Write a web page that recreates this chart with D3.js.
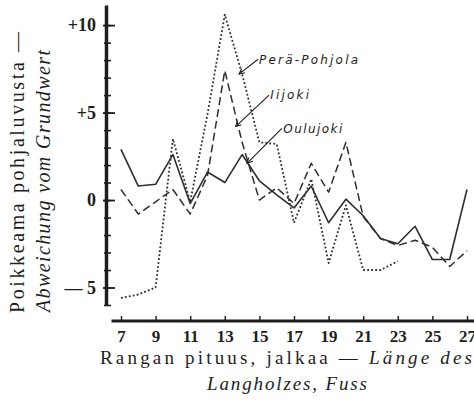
<!DOCTYPE html>
<html>
<head>
<meta charset="utf-8">
<script src="https://cdn.jsdelivr.net/npm/d3@7/dist/d3.min.js"></script>
<style>
  html, body { margin: 0; padding: 0; background: #ffffff; }
  svg { display: block; }
  .serif { font-family: "Liberation Serif", "Times New Roman", serif; }
  .sans { font-family: "DejaVu Sans", sans-serif; }
</style>
</head>
<body>
<svg id="chart" width="474" height="403"></svg>
<script>
// ---- data ----
const feet = [7, 8, 9, 10, 11, 12, 13, 14, 15, 16, 17, 18, 19, 20, 21, 22, 23, 24, 25, 26, 27];
const oulujoki = [2.9, 0.8, 0.9, 2.6, -0.2, 1.6, 1.0, 2.6, 1.1, 0.3, -0.45, 0.8, -1.3, 0.05, -0.9, -2.2, -2.5, -1.5, -3.4, -3.4, 0.6];
const iijoki = [0.6, -0.8, -0.1, 0.6, -0.8, 1.4, 7.4, 3.3, 0.0, 0.7, -0.2, 2.1, 0.45, 3.3, -0.95, -2.2, -2.6, -2.3, -2.7, -3.8, -2.9];
const perapohjola = [-5.6, -5.4, -5.0, 3.5, -0.1, 4.9, 10.6, 7.2, 3.3, 3.2, -1.3, 1.2, -3.6, -0.3, -4.0, -4.0, -3.5, null, null, null, null];
const seriesNames = ["Perä-Pohjola", "Iijoki", "Oulujoki"];
const xTickValues = [7, 9, 11, 13, 15, 17, 19, 21, 23, 25, 27];
const yTickValues = [10, 5, 0, -5];
const yTickLabels = ["+10", "+5", "0", "— 5"];
const yTitle = ["Poikkeama pohjaluvusta —", "Abweichung vom Grundwert"];
const xTitle1a = "Rangan pituus, jalkaa — ";
const xTitle1b = "Länge des";
const xTitle2 = "Langholzes, Fuss";
// annotation anchors in data units: label start, arrow start, arrow tip
const annLabelX = [14.98, 15.62, 16.38];
const annLabelY = [7.8, 5.8, 3.85];
const annFromX = [14.92, 15.56, 16.3];
const annFromY = [8.05, 6.0, 4.1];
const annToX = [13.82, 13.62, 14.28];
const annToY = [7.2, 4.2, 2.1];

// ---- layout ----
const svg = d3.select("#chart");
const x = d3.scaleLinear().domain([7, 27]).range([121, 467]);
const y = d3.scaleLinear().domain([-6, 11.15]).range([305, 5]);
const ink = "#1e1e1e";
const lineInk = "#2e2e2e";
const serifFam = "'Liberation Serif', 'Times New Roman', serif";

// y axis
const yAxisX = 106;
const gMinor = svg.append("g").attr("transform", `translate(${yAxisX},0)`)
  .call(d3.axisRight(y).tickValues(d3.range(-6, 11)).tickSize(5).tickSizeOuter(0).tickFormat(""));
gMinor.select(".domain").attr("stroke", ink).attr("stroke-width", 3.5);
gMinor.selectAll(".tick line").attr("stroke", ink).attr("stroke-width", 1.6).attr("x1", -2);
const gMajor = svg.append("g").attr("transform", `translate(${yAxisX},0)`)
  .call(d3.axisRight(y).tickValues(yTickValues).tickSize(9).tickFormat(""));
gMajor.select(".domain").remove();
gMajor.selectAll(".tick line").attr("stroke", ink).attr("stroke-width", 1.8).attr("x1", -3);
const gYLab = svg.append("g").attr("transform", `translate(${yAxisX},0)`)
  .call(d3.axisLeft(y).tickValues(yTickValues).tickSize(0).tickPadding(10)
    .tickFormat((d, i) => yTickLabels[i]));
gYLab.select(".domain").remove();
gYLab.attr("font-family", null).attr("font-size", null);
gYLab.selectAll("text").style("font-family", serifFam).style("font-size", "18px")
  .style("font-weight", "bold").attr("fill", ink);

// x axis
const xAxisY = 321;
svg.append("line")
  .attr("x1", x(6.45)).attr("x2", x(27.6))
  .attr("y1", xAxisY).attr("y2", xAxisY)
  .attr("stroke", ink).attr("stroke-width", 3);
const gXt = svg.append("g").attr("transform", `translate(0,${xAxisY})`)
  .call(d3.axisTop(x).tickValues(xTickValues).tickSize(5).tickFormat(""));
gXt.select(".domain").remove();
gXt.selectAll(".tick line").attr("stroke", ink).attr("stroke-width", 1.5);
const gXl = svg.append("g").attr("transform", `translate(0,${xAxisY})`)
  .call(d3.axisBottom(x).tickValues(xTickValues).tickSize(0).tickPadding(9).tickFormat(d3.format("d")));
gXl.select(".domain").remove();
gXl.attr("font-family", null).attr("font-size", null);
gXl.selectAll("text").style("font-family", serifFam).style("font-size", "17px")
  .style("font-weight", "bold").attr("fill", ink);

// axis titles
const t1 = svg.append("text").attr("x", 100).attr("y", 364)
  .style("font-family", serifFam).style("font-size", "19px").attr("fill", ink)
  .attr("textLength", 372).attr("lengthAdjust", "spacing");
t1.append("tspan").text(xTitle1a);
t1.append("tspan").style("font-style", "italic").text(xTitle1b);
svg.append("text").attr("x", 207).attr("y", 390)
  .style("font-family", serifFam).style("font-size", "19px").style("font-style", "italic").attr("fill", ink)
  .attr("textLength", 160).attr("lengthAdjust", "spacing")
  .text(xTitle2);
svg.append("text").attr("transform", "translate(24,313) rotate(-90)")
  .style("font-family", serifFam).style("font-size", "20px").attr("fill", ink)
  .attr("textLength", 281).attr("lengthAdjust", "spacing")
  .text(yTitle[0]);
svg.append("text").attr("transform", "translate(50,312) rotate(-90)")
  .style("font-family", serifFam).style("font-size", "20px").style("font-style", "italic").attr("fill", ink)
  .attr("textLength", 262).attr("lengthAdjust", "spacing")
  .text(yTitle[1]);

// series lines
const seriesData = [perapohjola, iijoki, oulujoki];
const dashes = ["1.8,2.2", "8,4", null];
const widths = [1.8, 1.5, 1.6];
const line = d3.line()
  .defined(d => d.v !== null)
  .x(d => x(d.f)).y(d => y(d.v));
seriesData.forEach((vals, i) => {
  const pts = feet.map((f, j) => ({ f: f, v: vals[j] }));
  svg.append("path").datum(pts)
    .attr("fill", "none")
    .attr("stroke", lineInk)
    .attr("stroke-width", widths[i])
    .attr("stroke-linejoin", "round")
    .attr("stroke-dasharray", dashes[i])
    .attr("d", line);
});

// annotations
svg.append("defs").append("marker")
  .attr("id", "arr").attr("viewBox", "0 0 10 10")
  .attr("refX", 9).attr("refY", 5)
  .attr("markerWidth", 7).attr("markerHeight", 7)
  .attr("markerUnits", "userSpaceOnUse")
  .attr("orient", "auto")
  .append("path").attr("d", "M1,1 L9,5 L1,9").attr("fill", "none")
  .attr("stroke", ink).attr("stroke-width", 1.4);
const labelWidths = [99, 39, 59];
seriesNames.forEach((name, i) => {
  svg.append("line")
    .attr("x1", x(annFromX[i])).attr("y1", y(annFromY[i]))
    .attr("x2", x(annToX[i])).attr("y2", y(annToY[i]))
    .attr("stroke", ink).attr("stroke-width", 1.1)
    .attr("marker-end", "url(#arr)");
  svg.append("text")
    .attr("x", x(annLabelX[i])).attr("y", y(annLabelY[i]))
    .style("font-family", "'DejaVu Sans', sans-serif")
    .style("font-size", "12px").style("font-style", "italic").attr("fill", ink)
    .attr("textLength", labelWidths[i]).attr("lengthAdjust", "spacing")
    .text(name);
});
</script>
</body>
</html>
